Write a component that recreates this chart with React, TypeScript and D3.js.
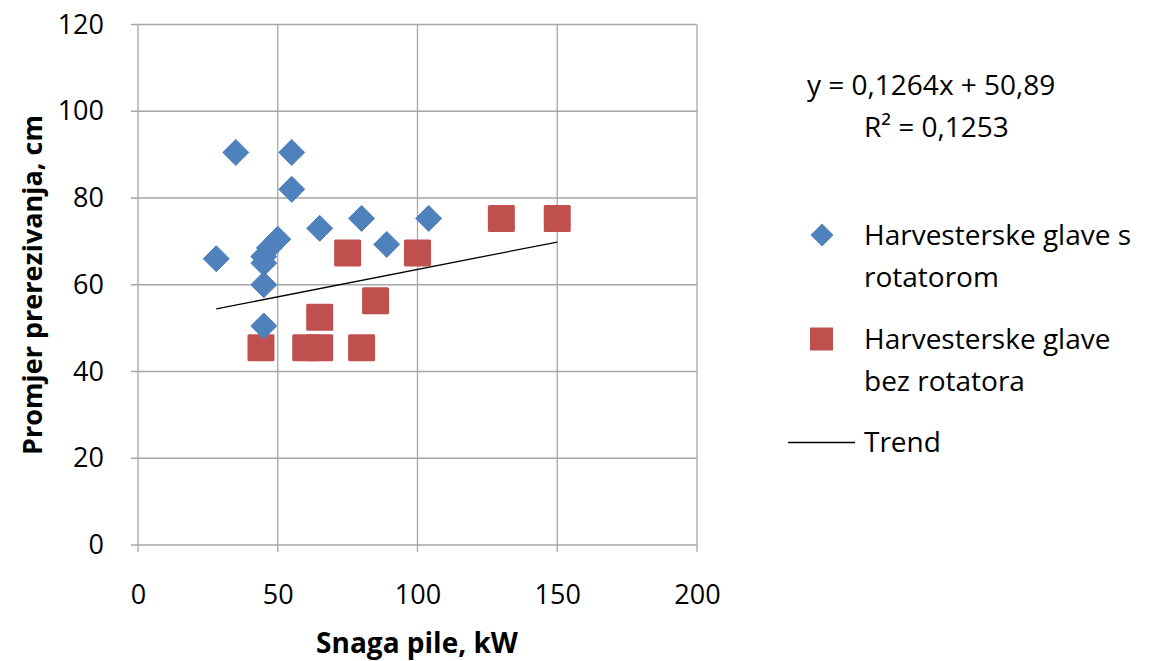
import React, { useEffect, useRef } from 'react';
import * as d3 from 'd3';

// Harvesterske glave s rotatorom (x: kW, y: cm)
const rotX = [28, 35, 45, 45, 47, 50, 45, 45, 55, 55, 65, 80, 89, 104];
const rotY = [66, 90.5, 66.5, 65, 68.5, 70.5, 60, 50.5, 90.5, 82, 73, 75.3, 69.3, 75.3];

// Harvesterske glave bez rotatora
const bezX = [44, 60, 65, 65, 75, 80, 85, 100, 130, 150];
const bezY = [45.5, 45.5, 45.5, 52.5, 67.3, 45.5, 56.3, 67.3, 75.3, 75.3];

const xTicks = [0, 50, 100, 150, 200];
const yTicks = [0, 20, 40, 60, 80, 100, 120];

const slope = 0.1264;
const intercept = 50.89;
const eqLabel = 'y = 0,1264x + 50,89';
const r2Label = 'R² = 0,1253';

const seriesNames = ['Harvesterske glave s', 'rotatorom', 'Harvesterske glave', 'bez rotatora'];

const FONT = '"Open Sans", Lato, sans-serif';
const FS = '27px';
const FS_LEG = '28px';

export default function App() {
    const ref = useRef<SVGSVGElement | null>(null);

    useEffect(() => {
        const svg = d3.select(ref.current);
        svg.selectAll('*').remove();

        const left = 138, right = 697, top = 24.5, bottom = 545;
        const x = d3.scaleLinear().domain([0, 200]).range([left, right]);
        const y = d3.scaleLinear().domain([0, 120]).range([bottom, top]);
        const grid = '#a6a6a6';

        // grid
        const g = svg.append('g');
        g.selectAll('line.h').data(yTicks).enter().append('line')
            .attr('x1', left - 7).attr('x2', right)
            .attr('y1', d => y(d)).attr('y2', d => y(d))
            .attr('stroke', grid).attr('stroke-width', 1.3);
        g.selectAll('line.v').data(xTicks).enter().append('line')
            .attr('x1', d => x(d)).attr('x2', d => x(d))
            .attr('y1', top).attr('y2', bottom + 7)
            .attr('stroke', grid).attr('stroke-width', 1.3);

        // tick labels from d3 axes
        const xAxis = svg.append('g')
            .attr('transform', `translate(0, ${bottom})`)
            .call(d3.axisBottom(x).tickValues(xTicks).tickSize(0).tickPadding(40));
        const yAxis = svg.append('g')
            .attr('transform', `translate(${left}, 0)`)
            .call(d3.axisLeft(y).tickValues(yTicks).tickSize(0).tickPadding(34));
        [xAxis, yAxis].forEach(a => {
            a.select('.domain').remove();
            a.selectAll('text')
                .attr('fill', '#000')
                .style('font-family', FONT)
                .style('font-size', FS);
        });

        // trend line
        const allX = rotX.concat(bezX);
        const [x0, x1] = d3.extent(allX) as [number, number];
        svg.append('line')
            .attr('x1', x(x0)).attr('y1', y(slope * x0 + intercept))
            .attr('x2', x(x1)).attr('y2', y(slope * x1 + intercept))
            .attr('stroke', '#000').attr('stroke-width', 1.3);

        // squares
        const sq = 27;
        svg.append('g').selectAll('rect')
            .data(bezX.map((d, i) => [d, bezY[i]]))
            .enter().append('rect')
            .attr('x', d => x(d[0]) - sq / 2)
            .attr('y', d => y(d[1]) - sq / 2)
            .attr('width', sq).attr('height', sq).attr('rx', 1.5)
            .attr('fill', '#C0504D');

        // diamonds
        const dm = 13;
        const diamond = (cx: number, cy: number, r: number) =>
            `M${cx},${cy - r}L${cx + r},${cy}L${cx},${cy + r}L${cx - r},${cy}Z`;
        svg.append('g').selectAll('path')
            .data(rotX.map((d, i) => [d, rotY[i]]))
            .enter().append('path')
            .attr('d', d => diamond(x(d[0]), y(d[1]), dm))
            .attr('fill', '#4F81BD')
            .attr('stroke', '#4F81BD').attr('stroke-width', 1).attr('stroke-linejoin', 'round');

        // axis titles
        svg.append('text')
            .attr('x', 417).attr('y', 653)
            .attr('text-anchor', 'middle')
            .style('font-family', FONT).style('font-size', FS_LEG).style('font-weight', 'bold')
            .text('Snaga pile, kW');
        svg.append('text')
            .attr('transform', `translate(42, 285) rotate(-90)`)
            .attr('text-anchor', 'middle')
            .style('font-family', FONT).style('font-size', FS).style('font-weight', 'bold')
            .text('Promjer prerezivanja, cm');

        // equation
        const txt = (tx: number, ty: number, s: string) => svg.append('text')
            .attr('x', tx).attr('y', ty)
            .style('font-family', FONT).style('font-size', FS_LEG)
            .attr('fill', '#000')
            .text(s);
        txt(807, 95, eqLabel);
        txt(864, 137, r2Label);

        // legend
        svg.append('path').attr('d', diamond(822, 235, 11.5)).attr('fill', '#4F81BD');
        txt(864, 245, seriesNames[0]);
        txt(864, 287, seriesNames[1]);
        svg.append('rect').attr('x', 810).attr('y', 327.5).attr('width', 23).attr('height', 23).attr('fill', '#C0504D');
        txt(864, 349, seriesNames[2]);
        txt(864, 391, seriesNames[3]);
        svg.append('line').attr('x1', 788).attr('x2', 855).attr('y1', 442.5).attr('y2', 442.5)
            .attr('stroke', '#000').attr('stroke-width', 1.3);
        txt(864, 452, 'Trend');
    }, []);

    return (
        <svg ref={ref} width={1160} height={661}
            style={{ position: 'absolute', left: 0, top: 0, background: '#fff' }} />
    );
}
